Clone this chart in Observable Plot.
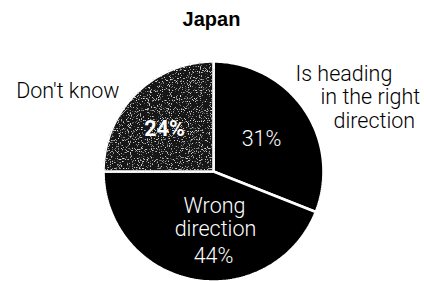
<!DOCTYPE html>
<html>
<head>
<meta charset="utf-8">
<script src="https://cdn.jsdelivr.net/npm/d3@7"></script>
<script src="https://cdn.jsdelivr.net/npm/@observablehq/plot@0.6"></script>
<style>
  html, body { margin: 0; padding: 0; background: #fff; }
  svg { display: block; }
</style>
</head>
<body>
<div id="chart"></div>
<script>
// ---- Data ----
const title = "Japan";
const categories = ["Is heading in the right direction", "Wrong direction", "Don't know"];
const values = [31, 44, 24];
const sliceColors = ["#000000", "#000000", "#141414"];

// ---- Layout (pixels) ----
const W = 424, H = 281;
const CX = 213, CY = 171, RPX = 110;   // pie centre & radius in pixels

// label lines: text, offset from pie centre (px), anchor, colour, weight
const labelLines = [
  {text: "Don't know",  dx: -94, dy: -74, anchor: "end",    fill: "#000", weight: 300},
  {text: "Is heading",  dx: 82,  dy: -91, anchor: "start",  fill: "#000", weight: 300},
  {text: "in the right",dx: 107, dy: -68, anchor: "start",  fill: "#000", weight: 300},
  {text: "direction",   dx: 120, dy: -44, anchor: "start",  fill: "#000", weight: 300},
  {text: "31%",         dx: 48,  dy: -26, anchor: "middle", fill: "#fff", weight: 300},
  {text: "24%",         dx: -49, dy: -36, anchor: "middle", fill: "#fff", weight: 700},
  {text: "Wrong",       dx: 1,   dy: 41,  anchor: "middle", fill: "#fff", weight: 300},
  {text: "direction",   dx: 2,   dy: 64,  anchor: "middle", fill: "#fff", weight: 300},
  {text: "44%",         dx: 0,   dy: 91,  anchor: "middle", fill: "#fff", weight: 300}
];

// ---- Build slice polygons from the data (angles clockwise from top) ----
const pts = [];
let acc = 0;
values.forEach((v, i) => {
  const a0 = acc / 100 * 2 * Math.PI;
  acc += v;
  const a1 = i === values.length - 1 ? 2 * Math.PI : acc / 100 * 2 * Math.PI;
  pts.push({cat: categories[i], x: 0, y: 0});
  const n = Math.max(2, Math.ceil((a1 - a0) / (Math.PI / 180)));
  for (let k = 0; k <= n; k++) {
    const a = a0 + (a1 - a0) * k / n;
    pts.push({cat: categories[i], x: Math.sin(a), y: Math.cos(a)});
  }
  pts.push({cat: categories[i], x: 0, y: 0});
});

const centre = [{x: 0, y: 0}];

const plot = Plot.plot({
  width: W,
  height: H,
  margin: 0,
  x: {domain: [-CX / RPX, (W - CX) / RPX], axis: null},
  y: {domain: [-(H - CY) / RPX, CY / RPX], axis: null},
  color: {domain: categories, range: sliceColors},
  style: {background: "#fff"},
  marks: [
    Plot.line(pts, {x: "x", y: "y", z: "cat", fill: "cat", stroke: "#fff", strokeWidth: 2.6, strokeLinejoin: "miter"}),
    Plot.text(centre, {x: "x", y: "y", text: () => title, dx: -2, dy: -146, lineAnchor: "bottom",
      fontFamily: "Liberation Sans, Arial, sans-serif", fontWeight: "bold", fontSize: 20, fill: "#000"}),
    ...labelLines.map(l => Plot.text(centre, {
      x: "x", y: "y", text: () => l.text, dx: l.dx, dy: l.dy, lineAnchor: "bottom",
      textAnchor: l.anchor, fill: l.fill, fontWeight: l.weight, fontSize: 21.5,
      fontFamily: "Roboto, Liberation Sans, sans-serif"
    }))
  ]
});

// speckle texture for the "Don't know" slice
const svg = d3.select(plot);
const defs = svg.insert("defs", ":first-child");
const f = defs.append("filter").attr("id", "speckle")
  .attr("filterUnits", "userSpaceOnUse").attr("x", 0).attr("y", 0).attr("width", W).attr("height", H);
f.append("feTurbulence").attr("type", "fractalNoise").attr("baseFrequency", 0.9)
  .attr("numOctaves", 2).attr("seed", 5).attr("result", "noise");
f.append("feColorMatrix").attr("in", "noise").attr("type", "matrix")
  .attr("values", "0 0 0 0 0.7  0 0 0 0 0.7  0 0 0 0 0.7  6 0 0 0 -3.55").attr("result", "specks");
f.append("feComposite").attr("in", "specks").attr("in2", "SourceGraphic").attr("operator", "in").attr("result", "sp");
const m = f.append("feMerge");
m.append("feMergeNode").attr("in", "SourceGraphic");
m.append("feMergeNode").attr("in", "sp");
svg.selectAll("path").filter(function() {
  return (this.getAttribute("fill") || "").toLowerCase() === sliceColors[2];
}).attr("filter", "url(#speckle)");

document.getElementById("chart").appendChild(plot);
</script>
</body>
</html>
